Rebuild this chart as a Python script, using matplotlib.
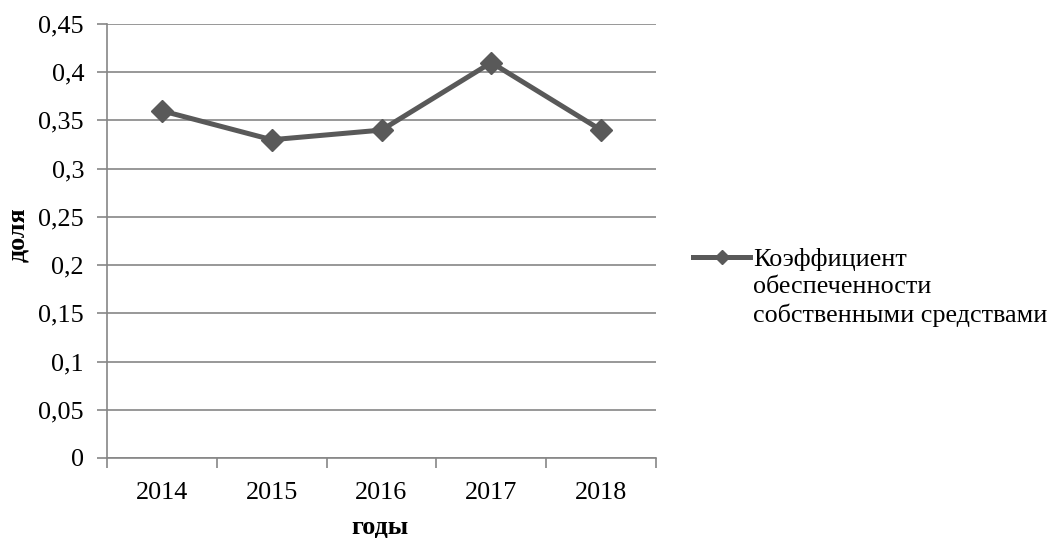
import matplotlib
matplotlib.use("Agg")
from matplotlib import pyplot as plt
from matplotlib.ticker import FixedLocator, FuncFormatter

plt.rcParams['font.family'] = ['Liberation Serif', 'DejaVu Serif']

years = ["2014", "2015", "2016", "2017", "2018"]
values = [0.36, 0.33, 0.34, 0.41, 0.34]
series_name = "Коэффициент\nобеспеченности\nсобственными средствами"

W, H = 1056, 538
fig = plt.figure(figsize=(W / 100, H / 100), dpi=100)
ax = fig.add_axes([107 / W, 1 - 458 / H, 549 / W, 434 / H])

grey = "#868686"
fs = 18.8

x = list(range(len(years)))
ax.plot(x, values, color="#595959", linewidth=3.6, marker="D", markersize=11,
        label=series_name, zorder=3)

ax.set_xlim(-0.5, len(years) - 0.5)
ax.set_ylim(0, 0.45)
ax.set_yticks([i * 0.05 for i in range(10)])
ax.yaxis.set_major_formatter(FuncFormatter(lambda v, p: ("%g" % round(v, 2)).replace(".", ",")))
ax.set_xticks(x)
ax.set_xticklabels(years)
ax.xaxis.set_minor_locator(FixedLocator([i - 0.5 for i in range(len(years) + 1)]))
ax.tick_params(axis="x", which="major", length=0, pad=17, labelsize=fs)
ax.tick_params(axis="x", which="minor", length=7, width=1.2, color=grey, direction="out")
ax.tick_params(axis="y", length=7, width=1.2, color=grey, direction="out", pad=9.5, labelsize=fs)

ax.grid(axis="y", color=grey, linewidth=1.2)
ax.set_axisbelow(True)
for side in ["top", "right"]:
    ax.spines[side].set_visible(False)
for side in ["left", "bottom"]:
    ax.spines[side].set_color(grey)
    ax.spines[side].set_linewidth(1.2)

# axis titles, placed in figure pixels
ax.set_xlabel("годы", fontsize=fs, fontweight="bold")
ax.xaxis.label.set_va("baseline")
ax.xaxis.set_label_coords(380 / W, 1 - 534 / H, transform=fig.transFigure)
ax.set_ylabel("доля", fontsize=fs, fontweight="bold")
ax.yaxis.label.set_va("center")
ax.yaxis.set_label_coords(18 / W, 1 - 235 / H, transform=fig.transFigure)

leg = ax.legend(loc="upper left", bbox_to_anchor=(693 / W, 1 - 248 / H),
                bbox_transform=fig.transFigure, frameon=False, fontsize=fs,
                handlelength=2.2, handletextpad=0.1, borderpad=0, borderaxespad=0,
                markerscale=0.65)
leg.get_texts()[0].set_linespacing(1.3)
# keep the legend line level with the first line of its label
for col in leg._legend_handle_box.get_children():
    for item in col.get_children():
        item.align = "top"

fig.savefig("out.png", dpi=100)
